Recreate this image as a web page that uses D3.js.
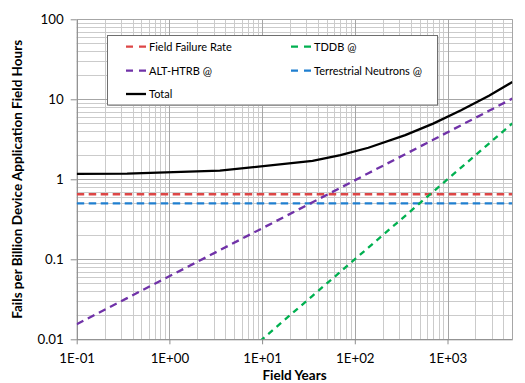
<!DOCTYPE html>
<html>
<head>
<meta charset="utf-8">
<script src="https://cdn.jsdelivr.net/npm/d3@7"></script>
<style>
  html, body { margin: 0; padding: 0; background: #fff; }
  svg { display: block; font-family: Lato, "Open Sans", sans-serif; }
</style>
</head>
<body>
<svg id="chart" width="525" height="383"></svg>
<script>
// ---- data ----
const years = [0.1, 0.35, 3.5, 35, 70, 140, 350, 700, 1400, 2800, 5000];
const fieldFailureRate = [0.65, 0.65, 0.65, 0.65, 0.65, 0.65, 0.65, 0.65, 0.65, 0.65, 0.65];
const terrestrialNeutrons = [0.5, 0.5, 0.5, 0.5, 0.5, 0.5, 0.5, 0.5, 0.5, 0.5, 0.5];
const altHtrb = [0.0154, 0.0327, 0.130, 0.517, 0.784, 1.19, 2.06, 3.12, 4.74, 7.18, 10.2];
const tddb = [0.0001, 0.00035, 0.0035, 0.035, 0.07, 0.14, 0.35, 0.7, 1.4, 2.8, 5.0];
const total = [1.17, 1.18, 1.28, 1.70, 2.00, 2.48, 3.56, 4.97, 7.29, 11.1, 16.4];
const xTicks = [0.1, 1, 10, 100, 1000];
const xTickLabels = ["1E-01", "1E+00", "1E+01", "1E+02", "1E+03"];
const yTicks = [0.01, 0.1, 1, 10, 100];
const yTickLabels = ["0.01", "0.1", "1", "10", "100"];
const seriesNames = ["Field Failure Rate", "TDDB @", "ALT-HTRB @", "Terrestrial Neutrons @", "Total"];

const svg = d3.select("#chart");
const L = 76.7, R = 512.3, T = 19.3, B = 339.3;

const x = d3.scaleLog().domain([0.1, 5000]).range([L, R]);
const y = d3.scaleLog().domain([0.01, 100]).range([B, T]);

// clip
svg.append("defs").append("clipPath").attr("id", "plotclip")
  .append("rect").attr("x", L).attr("y", T).attr("width", R - L).attr("height", B - T);

// grid: minor
const gx = svg.append("g");
const minorX = [], minorY = [];
for (let e = -1; e <= 3; e++) for (let m = 2; m <= 9; m++) { const v = m * Math.pow(10, e); if (v <= 5000) minorX.push(v); }
for (let e = -2; e <= 1; e++) for (let m = 2; m <= 9; m++) minorY.push(m * Math.pow(10, e));
gx.selectAll(".mx").data(minorX).join("line")
  .attr("x1", d => Math.round(x(d)) + 0.5).attr("x2", d => Math.round(x(d)) + 0.5)
  .attr("y1", T).attr("y2", B).attr("stroke", "#cbcbcb").attr("stroke-width", 1);
gx.selectAll(".my").data(minorY).join("line")
  .attr("y1", d => Math.round(y(d)) + 0.5).attr("y2", d => Math.round(y(d)) + 0.5)
  .attr("x1", L).attr("x2", R).attr("stroke", "#cbcbcb").attr("stroke-width", 1);
// grid: major
gx.selectAll(".Mx").data(xTicks.concat([5000])).join("line")
  .attr("x1", d => Math.round(x(d)) + 0.5).attr("x2", d => Math.round(x(d)) + 0.5)
  .attr("y1", T).attr("y2", B).attr("stroke", "#a6a6a6").attr("stroke-width", 1);
gx.selectAll(".My").data(yTicks).join("line")
  .attr("y1", d => Math.round(y(d)) + 0.5).attr("y2", d => Math.round(y(d)) + 0.5)
  .attr("x1", L).attr("x2", R).attr("stroke", "#a6a6a6").attr("stroke-width", 1);

// axes
const xAxis = d3.axisBottom(x).tickValues(xTicks).tickFormat((d, i) => xTickLabels[i]).tickSize(5).tickSizeOuter(0);
const yAxis = d3.axisLeft(y).tickValues(yTicks).tickFormat((d, i) => yTickLabels[i]).tickSize(6).tickSizeOuter(0);
const xa = svg.append("g").attr("transform", `translate(0,${B})`).call(xAxis);
const ya = svg.append("g").attr("transform", `translate(${L},0)`).call(yAxis);
[xa, ya].forEach(a => {
  a.select(".domain").attr("stroke", "#8c8c8c");
  a.selectAll(".tick line").attr("stroke", "#8c8c8c");
  a.selectAll(".tick text").attr("fill", "#000").style("font-size", "13.3px").style("font-family", "Lato, sans-serif");
});
xa.selectAll(".tick text").attr("dy", "0").attr("y", 23.5);
ya.selectAll(".tick text").attr("x", -13).attr("dy", "0.34em");

// series
const pts = vals => years.map((t, i) => [t, vals[i]]);
const line = d3.line().x(d => x(d[0])).y(d => y(d[1]));
const series = [
  { vals: fieldFailureRate, color: "#dd4646", dash: "7.5,4.5" },
  { vals: terrestrialNeutrons, color: "#1f7fd0", dash: "7.5,4.5" },
  { vals: altHtrb, color: "#7032a8", dash: "7.5,5" },
  { vals: tddb, color: "#00b050", dash: "6,5" },
  { vals: total, color: "#000000", dash: null }
];
const gs = svg.append("g").attr("clip-path", "url(#plotclip)");
series.forEach(s => {
  gs.append("path").datum(pts(s.vals)).attr("d", line)
    .attr("fill", "none").attr("stroke", s.color).attr("stroke-width", 2.3)
    .attr("stroke-dasharray", s.dash);
});

// legend
const lg = svg.append("g");
lg.append("rect").attr("x", 108.5).attr("y", 36.5).attr("width", 330).attr("height", 69.5).attr("fill", "#bdbdbd");
lg.append("rect").attr("x", 107.5).attr("y", 35.5).attr("width", 330).attr("height", 69.5)
  .attr("fill", "#fff").attr("stroke", "#6e6e6e").attr("stroke-width", 1);
const legendItems = [
  { name: seriesNames[0], color: "#dd4646", dash: true, lx: 126, ly: 46.7 },
  { name: seriesNames[1], color: "#00b050", dash: true, lx: 291, ly: 46.7 },
  { name: seriesNames[2], color: "#7032a8", dash: true, lx: 126, ly: 70.7 },
  { name: seriesNames[3], color: "#1f7fd0", dash: true, lx: 291, ly: 70.7 },
  { name: seriesNames[4], color: "#000", dash: false, lx: 126, ly: 94 }
];
legendItems.forEach(it => {
  lg.append("line").attr("x1", it.lx).attr("x2", it.lx + 20).attr("y1", it.ly).attr("y2", it.ly)
    .attr("stroke", it.color).attr("stroke-width", 2.3).attr("stroke-dasharray", it.dash ? "7,6" : null);
  lg.append("text").attr("x", it.lx + 23).attr("y", it.ly).attr("dy", "0.35em")
    .style("font-size", "11px").text(it.name);
});

// axis titles
svg.append("text").attr("x", (L + R) / 2).attr("y", 380).attr("text-anchor", "middle")
  .style("font-size", "13.5px").style("font-weight", "bold").text("Field Years");
svg.append("text").attr("transform", `translate(21.5,${(T + B) / 2}) rotate(-90)`).attr("text-anchor", "middle")
  .style("font-size", "13.5px").style("font-weight", "bold").text("Fails per Billion Device Application Field Hours");
</script>
</body>
</html>
